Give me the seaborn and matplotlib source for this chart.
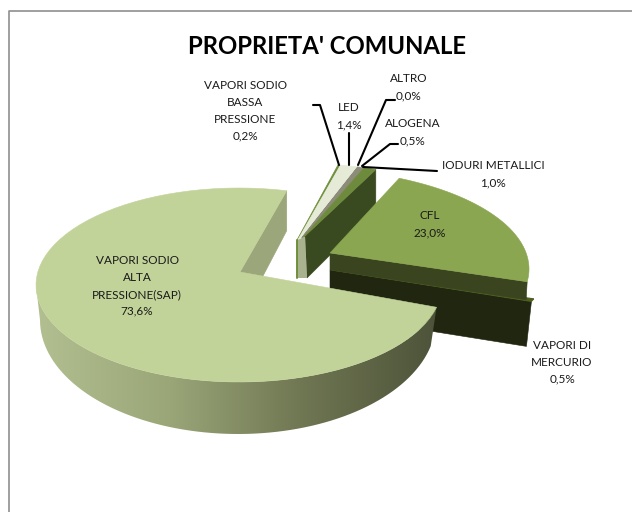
import numpy as np
import pandas as pd
import matplotlib
matplotlib.use('Agg')
import matplotlib.pyplot as plt
from matplotlib.patches import Polygon
import seaborn as sns

# share of each lamp type, clockwise from the top of the pie
categories = ['VAPORI SODIO\nBASSA\nPRESSIONE', 'LED', 'ALTRO', 'ALOGENA', 'IODURI METALLICI',
              'CFL', 'VAPORI DI\nMERCURIO', 'VAPORI SODIO\nALTA\nPRESSIONE(SAP)']
shares = [0.2, 1.4, 0.04, 0.5, 1.0, 23.0, 0.5, 73.6]
pct_labels = ['0,2%', '1,4%', '0,0%', '0,5%', '1,0%', '23,0%', '0,5%', '73,6%']
slice_colors = ['#6F8F3C', '#E6EBD8', '#8C8C84', '#8C8C78', '#6E8A3C', '#8AA650', '#4F6020', '#C2D39A']

df = pd.DataFrame({'name': categories, 'share': shares, 'label': pct_labels, 'color': slice_colors})
df['sweep'] = df['share'] * 360 / df['share'].sum()
df['start'] = 76.4 - df['sweep'].cumsum().shift(fill_value=0)
df['end'] = df['start'] - df['sweep']

sns.set_theme(style='white')
plt.rcParams['font.family'] = ['Lato', 'DejaVu Sans']

fig = plt.figure(figsize=(6.32, 5.12), dpi=100)
ax = fig.add_axes([0, 0, 1, 1])
ax.set_xlim(0, 632)
ax.set_ylim(512, 0)
ax.axis('off')


def arc(a0, a1, cx, cy, rx, ry):
    t = np.radians(np.linspace(a0, a1, 80))
    return np.column_stack([cx + rx * np.cos(t), cy - ry * np.sin(t)])


# frame of the chart area
ax.plot([9, 9, 634], [514, 10.5, 10.5], color='#8f8f8f', lw=1.2, zorder=1)

# thin slices, pulled out at the back
thin = df.iloc[:5]
thin_ell = (290, 233, 204, 70)
a0 = np.array([297.0, 240.0])
a1 = np.array([305.0, 236.0])
end_pt = arc(thin['end'].iloc[-1], thin['end'].iloc[-1], *thin_ell)[0]
ax.add_patch(Polygon([a1, end_pt, end_pt + [0, 40], a1 + [2, 42]], fc='#3A4A20', ec='#3A4A20', lw=0.4, zorder=3))
ax.add_patch(Polygon([a0, a1, a1 + [2, 42], a0 + [0, 38]], fc='#A9B28F', ec='none', zorder=3))
ax.plot([a0[0], a0[0]], [a0[1], a0[1] + 38], color='#6F8F3C', lw=1.4, zorder=3)
widths = np.array([0.14, 0.45, 0.1, 0.16, 0.15])
edges = np.concatenate([[0], np.cumsum(widths)])
for i, (_, row) in enumerate(thin.iterrows()):
    p0 = a0 + (a1 - a0) * edges[i]
    p1 = a0 + (a1 - a0) * edges[i + 1]
    pts = np.vstack([[p0], arc(row['start'], row['end'], *thin_ell), [p1]])
    ax.add_patch(Polygon(pts, fc=row['color'], ec=row['color'], lw=0.5, zorder=4))

# mercury slice: only a sliver of top and its dark wall
row = df.iloc[6]
merc_ell = (320, 273, 224, 86)
merc_apex = np.array([332.0, 270.0])
e = arc(row['end'], row['end'], *merc_ell)[0]
ax.add_patch(Polygon([merc_apex + [-2, 0], e, e + [-5, 45], merc_apex + [-2, 45]], fc='#20260F', ec='#20260F', lw=0.4, zorder=5))
ax.add_patch(Polygon(np.vstack([[merc_apex], arc(row['start'], row['end'], *merc_ell)]),
                     fc=row['color'], ec=row['color'], lw=0.8, zorder=6))

# CFL slice, the sweep is a bit squeezed by the perspective
row = df.iloc[5]
cfl_ell = (305, 269, 224, 100)
cfl_apex = np.array([330.0, 253.0])
squash = 0.877
cfl_a0 = row['start']
cfl_a1 = row['start'] - row['sweep'] * squash
e = arc(cfl_a1, cfl_a1, *cfl_ell)[0]
ax.add_patch(Polygon([cfl_apex, e, e + [-1, 18], cfl_apex + [0, 17]], fc='#3A4520', ec='#3A4520', lw=0.4, zorder=7))
ax.add_patch(Polygon(np.vstack([[cfl_apex], arc(cfl_a0, cfl_a1, *cfl_ell)]),
                     fc=row['color'], ec=row['color'], lw=0.4, zorder=8))

# main slice with shaded outer wall, front edge moved by the perspective
row = df.iloc[7]
top_ell = (239, 285, 203, 97)
bot_ell = (238, 320, 198, 114)
sap_apex = np.array([240.0, 272.0])
front_shift = 6
sap_a0 = row['start'] + front_shift
s = arc(row['end'], row['end'], *top_ell)[0]
ax.add_patch(Polygon([sap_apex, s, s + [0, 40], sap_apex + [0, 48]], fc='#9BA67A', ec='#9BA67A', lw=0.4, zorder=9))
wall_a1 = -180
wall = np.vstack([arc(sap_a0, wall_a1, *top_ell), arc(wall_a1, sap_a0, *bot_ell)])
wall_patch = Polygon(wall, fc='none', ec='none', zorder=9)
ax.add_patch(wall_patch)
cmap = matplotlib.colors.LinearSegmentedColormap.from_list('wall', ['#B2BF90', '#9AA678', '#6F7652', '#4D5339'])
img = ax.imshow(np.linspace(0, 1, 256)[None, :], extent=(36, 437, 512, 0), cmap=cmap, aspect='auto', zorder=9)
img.set_clip_path(wall_patch)
ax.set_xlim(0, 632)
ax.set_ylim(512, 0)
ax.add_patch(Polygon(np.vstack([[sap_apex], arc(sap_a0, row['end'], *top_ell)]),
                     fc=row['color'], ec=row['color'], lw=0.4, zorder=10))

# labels
ax.text(327, 47, "PROPRIETA' COMUNALE", fontsize=17.2, fontweight='bold', color='black', ha='center', va='center')
label_pos = [(245, 111), (349, 116), (409, 87), (413, 132), (493, 174), (430, 224), (562, 362), (137, 286)]
for i, (x, y) in enumerate(label_pos):
    ax.text(x, y, df['name'][i] + '\n' + df['label'][i], fontsize=8.5, color='#1a1a1a', ha='center', va='center',
            linespacing=1.65, zorder=12)

leaders = [[(313, 105), (320, 105), (339, 165)], [(349, 133), (349, 165)], [(395, 100), (386, 100), (358, 165)],
           [(398, 144), (390, 144), (362, 166)], [(437, 171), (363, 167)]]
for pts in leaders:
    xs, ys = zip(*pts)
    ax.plot(xs, ys, color='black', lw=1.5, zorder=11)

fig.savefig('out.png', dpi=100)
